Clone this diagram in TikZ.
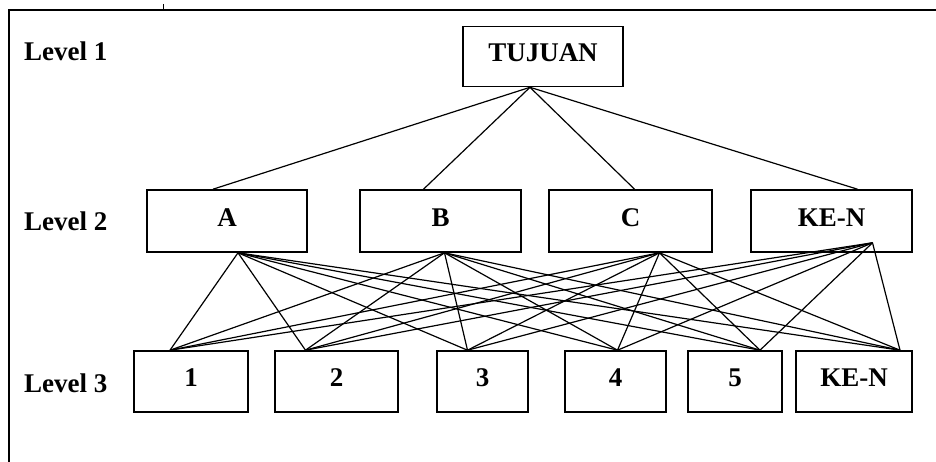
\documentclass[tikz,border=0pt]{standalone}
\usepackage{fontspec}
\setmainfont{Liberation Serif}
\usepackage{tikz}
\usetikzlibrary{calc}

\begin{document}
\begin{tikzpicture}[
  x=1pt, y=-1pt,
  box/.style={draw, line width=1.6pt, inner sep=0pt, text height=35pt, text depth=25pt, align=center, font=\fontsize{27}{32}\selectfont\bfseries},
  level/.style={anchor=base west, inner sep=0pt, font=\fontsize{27}{32}\selectfont\bfseries},
  link/.style={line width=1.2pt},
]
\useasboundingbox (0,0) rectangle (936,462);

% frame
\draw[line width=1.6pt] (9,462) -- (9,10) -- (936,10);
\draw[line width=1pt] (163,4) -- (163,10);

\node[level] (l1) at (24,61) {Level 1};
\node[level] (l2) at (24,230) {Level 2};
\node[level] (l3) at (24,392) {Level 3};

\node[box, minimum width=160pt, minimum height=59pt] (tujuan) at (543,56.5) {TUJUAN};

\node[box, minimum width=160pt, minimum height=62pt] (a) at (227,221) {A};
\node[box, minimum width=161pt, minimum height=62pt] (b) at (440.5,221) {B};
\node[box, minimum width=163pt, minimum height=62pt] (c) at (630.5,221) {C};
\node[box, minimum width=161pt, minimum height=62pt] (kn2) at (831.5,221) {KE-N};

\node[box, minimum width=114pt, minimum height=61pt] (n1) at (191,381.5) {1};
\node[box, minimum width=123pt, minimum height=61pt] (n2) at (336.5,381.5) {2};
\node[box, minimum width=91pt, minimum height=61pt] (n3) at (482.5,381.5) {3};
\node[box, minimum width=101pt, minimum height=61pt] (n4) at (615.5,381.5) {4};
\node[box, minimum width=94pt, minimum height=61pt] (n5) at (735,381.5) {5};
\node[box, minimum width=116pt, minimum height=61pt] (n6) at (854,381.5) {KE-N};

% hubs where the lines meet
\coordinate (tujuan-out) at ($(tujuan.south)+(-13,0)$);
\coordinate (a-in) at ($(a.north)+(-14,0)$);
\coordinate (b-in) at ($(b.north)+(-17,0)$);
\coordinate (c-in) at ($(c.north)+(4,0)$);
\coordinate (kn2-in) at ($(kn2.north)+(26,0)$);
\coordinate (a-out) at ($(a.south)+(11,0)$);
\coordinate (b-out) at ($(b.south)+(4,0)$);
\coordinate (c-out) at ($(c.south)+(29,0)$);
\coordinate (kn2-out) at ($(kn2.south)+(41,-10)$);
\coordinate (n1-in) at ($(n1.north)+(-21,0)$);
\coordinate (n2-in) at ($(n2.north)+(-31,0)$);
\coordinate (n3-in) at ($(n3.north)+(-15,0)$);
\coordinate (n4-in) at ($(n4.north)+(2,0)$);
\coordinate (n5-in) at ($(n5.north)+(25,0)$);
\coordinate (n6-in) at ($(n6.north)+(46,0)$);

\foreach \u in {a,b,c,kn2}
  \draw[link] (tujuan-out) -- (\u-in);

\foreach \u in {a,b,c,kn2}
  \foreach \v in {n1,n2,n3,n4,n5,n6}
    \draw[link] (\u-out) -- (\v-in);

\end{tikzpicture}
\end{document}
